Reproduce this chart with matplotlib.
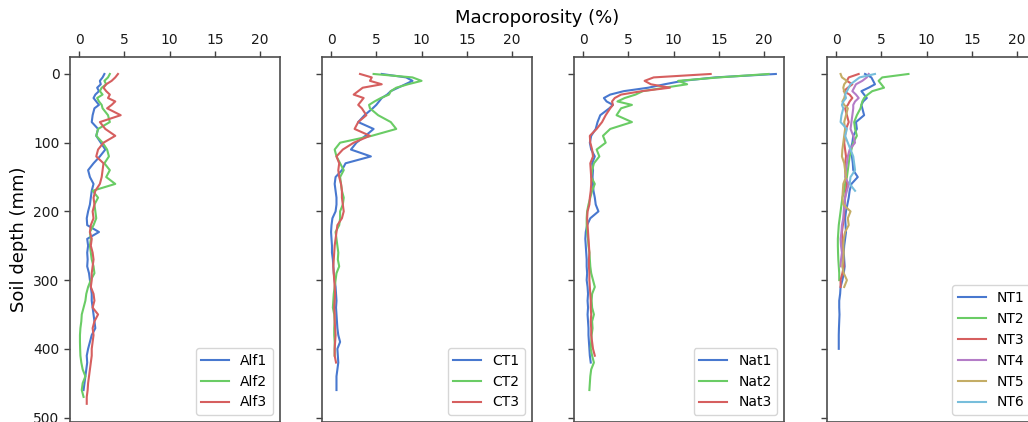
import matplotlib
matplotlib.use("Agg")
import matplotlib.pyplot as plt

# depth grid (mm): 5 mm steps near the surface, then 10 mm steps
depth = list(range(0, 50, 5)) + list(range(50, 490, 10))

colors = ["#4878CF", "#6ACC65", "#D65F5F", "#B47CC7", "#C4AD66", "#77BEDB"]

alf_names = ["Alf1", "Alf2", "Alf3"]
alf1 = [2.8, 2.6, 2.3, 2.4, 2.0, 2.2, 1.8, 1.6, 1.9, 2.2, 1.7,
        1.5, 1.4, 2.1, 1.9, 2.4, 2.9, 2.3, 1.6, 1.0, 1.2, 1.6, 1.4, 1.3, 1.2, 1.0,
        0.85, 0.9, 2.2, 0.9, 1.0, 0.9, 0.95, 0.9, 1.1, 1.2, 1.3, 1.4, 1.4, 1.5, 1.6,
        1.7, 1.8, 1.4, 1.2, 1.0, 0.85, 0.9, 0.8, 0.7, 0.6, 0.5]
alf2 = [3.4, 3.2, 2.8, 3.0, 2.5, 2.3, 2.6, 2.0, 2.2, 2.5, 2.6,
        3.2, 3.4, 2.1, 1.9, 2.6, 3.1, 3.3, 2.8, 3.4, 3.0, 4.0, 1.5, 2.1, 1.7, 1.8,
        1.9, 1.6, 1.2, 1.3, 1.2, 1.3, 1.4, 1.6, 1.7, 1.3, 1.0, 0.8, 0.7, 0.5, 0.3,
        0.25, 0.15, 0.1, 0.1, 0.12, 0.15, 0.25, 0.4, 0.7, 0.4, 0.3, 0.5]
alf3 = [4.3, 4.0, 3.6, 3.0, 2.7, 3.0, 3.4, 3.2, 4.0, 3.6, 3.1,
        4.6, 2.3, 2.9, 4.0, 2.7, 2.1, 1.9, 2.7, 2.6, 2.5, 2.3, 1.8, 1.6, 1.7, 1.5,
        1.6, 1.3, 1.2, 1.4, 1.3, 1.5, 1.6, 1.5, 1.4, 1.4, 1.3, 1.6, 1.7, 1.5, 2.1,
        1.7, 1.5, 1.6, 1.5, 1.4, 1.4, 1.3, 1.2, 1.1, 1.0, 0.95, 0.85, 0.85]

ct_names = ["CT1", "CT2", "CT3"]
ct1 = [5.6, 8.3, 9.0, 8.2, 7.4, 6.6, 6.2, 5.6, 5.3, 5.0, 4.6,
       3.7, 3.0, 4.7, 3.8, 2.8, 2.2, 4.4, 1.6, 1.2, 0.5, 0.4, 0.5, 0.6, 0.6, 0.5,
       0.15, 0.05, 0.0, 0.05, 0.1, 0.1, 0.2, 0.25, 0.3, 0.4, 0.5, 0.55, 0.6, 0.55,
       0.6, 0.65, 0.7, 0.8, 1.0, 0.7, 0.75, 0.8, 0.7, 0.6, 0.6, 0.6]
ct2 = [4.7, 9.0, 10.0, 8.5, 7.2, 6.6, 6.4, 5.5, 4.8, 4.2, 4.3,
       5.2, 6.6, 7.2, 4.5, 1.0, 0.4, 0.6, 1.0, 1.4, 1.0, 1.1, 1.2, 1.4, 1.3, 1.0,
       1.0, 0.9, 0.5, 0.6, 0.7, 0.8, 0.75, 0.9, 0.6, 0.5, 0.4, 0.3, 0.25, 0.2,
       0.35, 0.4, 0.35, 0.35, 0.4, 0.4, 0.4]
ct3 = [3.2, 4.5, 4.3, 5.6, 3.5, 3.0, 2.5, 3.6, 3.3, 3.0, 3.4,
       3.9, 3.0, 2.6, 4.3, 2.5, 1.3, 0.6, 0.9, 0.8, 0.9, 1.1, 1.2, 1.2, 1.3, 1.4,
       1.2, 0.7, 0.6, 0.5, 0.4, 0.35, 0.3, 0.25, 0.3, 0.35, 0.4, 0.45, 0.4, 0.35,
       0.4, 0.4, 0.45, 0.5, 0.45, 0.4, 0.4, 0.55]

nat_names = ["Nat1", "Nat2", "Nat3"]
nat1 = [21.3, 14.6, 11.0, 9.0, 7.2, 4.5, 3.0, 2.3, 2.6, 3.3, 2.9,
        1.9, 1.6, 1.4, 0.9, 0.75, 0.9, 1.3, 1.0, 1.1, 1.05, 1.1, 1.15, 1.3, 1.4, 1.7,
        0.8, 0.45, 0.3, 0.25, 0.3, 0.35, 0.4, 0.4, 0.45, 0.4, 0.5, 0.55, 0.5, 0.55,
        0.5, 0.55, 0.6, 0.6, 0.65, 0.7, 0.75, 0.85]
nat2 = [20.5, 15.0, 10.5, 11.5, 9.0, 6.6, 5.8, 4.6, 3.8, 5.4, 4.2,
        3.7, 5.4, 3.0, 2.2, 2.5, 1.5, 1.8, 1.2, 1.0, 0.9, 1.3, 1.0, 0.8, 0.6, 0.45,
        0.4, 0.4, 0.45, 0.55, 0.6, 0.7, 0.75, 0.8, 0.9, 1.1, 1.3, 1.0, 0.95, 1.0,
        1.2, 1.0, 1.05, 0.95, 0.9, 0.85, 1.0, 1.2, 0.9, 0.8, 0.75, 0.7]
nat3 = [14.1, 7.8, 6.8, 7.5, 9.6, 6.5, 4.2, 3.5, 3.2, 3.3, 3.0,
        2.5, 2.1, 1.5, 0.75, 0.8, 1.0, 1.1, 0.8, 0.85, 0.9, 0.9, 0.85, 0.75, 0.7, 0.5,
        0.45, 0.5, 0.55, 0.6, 0.65, 0.7, 0.65, 0.65, 0.7, 0.7, 0.75, 0.8, 0.85, 0.85,
        0.9, 0.85, 0.9, 0.9, 1.0, 1.1, 1.3]

nt_names = ["NT1", "NT2", "NT3", "NT4", "NT5", "NT6"]
nt1 = [3.2, 3.9, 4.1, 4.3, 3.6, 2.8, 3.1, 3.4, 3.0, 2.8, 2.9,
       3.1, 2.2, 2.3, 1.9, 1.8, 1.6, 1.75, 1.85, 1.9, 2.4, 1.7, 1.5, 1.4, 1.25, 1.1,
       1.0, 1.05, 1.1, 1.0, 0.9, 0.85, 0.9, 0.95, 0.85, 0.7, 0.5, 0.45, 0.35, 0.35,
       0.38, 0.35, 0.32, 0.3, 0.3, 0.3]
nt2 = [8.0, 5.1, 4.7, 5.0, 5.3, 4.0, 3.5, 3.1, 2.9, 2.8, 2.7,
       2.3, 2.0, 2.1, 2.3, 1.9, 1.7, 1.5, 1.4, 1.3, 1.2, 1.0, 0.9, 0.7, 0.6, 0.5,
       0.4, 0.3, 0.25, 0.2, 0.2, 0.22, 0.25, 0.3, 0.35, 0.35]
nt3 = [2.5, 1.4, 1.2, 1.8, 1.3, 0.85, 1.5, 1.8, 1.5, 1.3, 1.0,
       1.2, 1.4, 1.1, 1.0, 0.9, 1.0, 1.1, 1.0, 1.0, 1.1, 1.2, 1.1, 1.0, 0.95, 0.9,
       0.85, 0.75, 0.65, 0.7, 0.65, 0.7, 0.8, 0.85, 0.7, 0.5, 0.5]
nt4 = [3.6, 3.4, 2.9, 2.2, 2.0, 1.8, 2.2, 2.5, 2.1, 1.9, 1.9,
       1.8, 1.7, 1.6, 1.9, 2.1, 1.5, 1.3, 1.2, 1.1, 1.0, 1.4, 1.2, 1.0, 0.9, 0.85,
       0.8, 0.65, 0.6, 0.5, 0.55, 0.65, 0.55, 0.5]
nt5 = [0.5, 0.65, 1.2, 0.9, 0.8, 0.9, 1.0, 0.9, 0.7, 0.9, 1.3,
       1.1, 0.9, 1.0, 0.9, 0.8, 0.7, 0.65, 0.9, 1.0, 1.1, 0.8, 0.75, 0.7, 0.8, 1.6,
       1.3, 1.4, 1.0, 0.85, 0.8, 0.85, 0.8, 0.7, 0.85, 1.2, 0.9]
nt6 = [4.3, 2.6, 2.1, 1.6, 1.4, 1.2, 1.0, 1.1, 0.8, 0.65, 0.8,
       0.6, 0.5, 1.2, 1.0, 1.3, 1.6, 1.9, 2.0, 2.1, 1.6, 1.5, 2.1]

groups = [
    (alf_names, [alf1, alf2, alf3]),
    (ct_names, [ct1, ct2, ct3]),
    (nat_names, [nat1, nat2, nat3]),
    (nt_names, [nt1, nt2, nt3, nt4, nt5, nt6]),
]


def main():
    fig = plt.figure(figsize=(10.28, 4.22), dpi=100)
    lefts = [70, 322, 574, 827]
    axes = []
    for k, (names, series) in enumerate(groups):
        ax = fig.add_axes([lefts[k] / 1028, 0.0, 210 / 1028, (422 - 57) / 422])
        for i, vals in enumerate(series):
            ax.plot(vals, depth[:len(vals)], color=colors[i], lw=1.5, label=names[i])
        ax.set_xlim(-1.0, 22.2)
        ax.set_ylim(506.5, -24.7)
        ax.set_xticks([0, 5, 10, 15, 20])
        ax.set_yticks([0, 100, 200, 300, 400, 500])
        ax.xaxis.tick_top()
        ax.tick_params(axis="both", labelsize=10, color="0.25", length=4,
                       width=1.0, labelcolor="0.1")
        for sp in ax.spines.values():
            sp.set_color("0.3")
            sp.set_linewidth(1.2)
        if k > 0:
            ax.set_yticklabels([])
        ax.legend(loc="lower right", fontsize=10)
        axes.append(ax)

    axes[0].set_ylabel("Soil depth (mm)", fontsize=13)
    fig.text(537 / 1028, 1 - 18 / 422, "Macroporosity (%)", fontsize=13,
             ha="center", va="center")
    fig.savefig("out.png", dpi=100)


if __name__ == "__main__":
    main()
